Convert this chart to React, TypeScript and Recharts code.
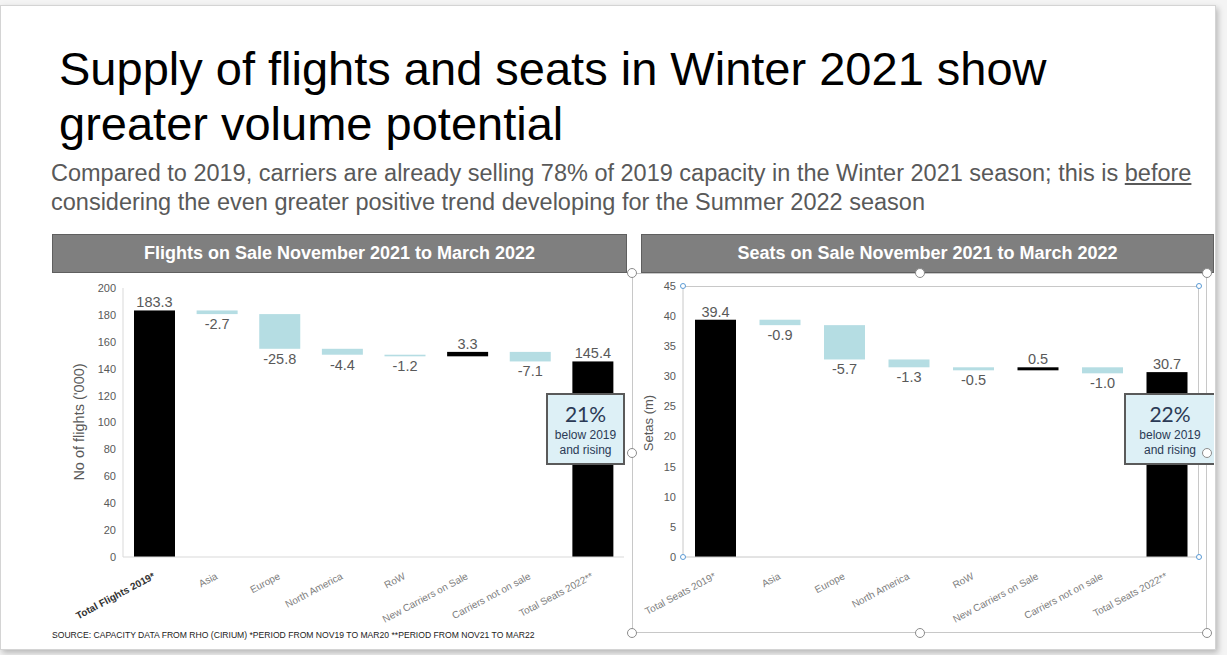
import React from 'react'
import { BarChart, Bar, XAxis, YAxis } from 'recharts'

// flights on sale ('000)
const flightCategories = [
  'Total Flights 2019*',
  'Asia',
  'Europe',
  'North America',
  'RoW',
  'New Carriers on Sale',
  'Carriers not on sale',
  'Total Seats 2022**',
]
const flightValues = [183.3, -2.7, -25.8, -4.4, -1.2, 3.3, -7.1, 145.4]
const flightTicks = [0, 20, 40, 60, 80, 100, 120, 140, 160, 180, 200]

// seats on sale (m)
const seatCategories = [
  'Total Seats 2019*',
  'Asia',
  'Europe',
  'North America',
  'RoW',
  'New Carriers on Sale',
  'Carriers not on sale',
  'Total Seats 2022**',
]
const seatValues = [39.4, -0.9, -5.7, -1.3, -0.5, 0.5, -1.0, 30.7]
const seatTicks = [0, 5, 10, 15, 20, 25, 30, 35, 40, 45]

// first and last columns are totals, the rest are steps
const isTotal = [true, false, false, false, false, false, false, true]

const FONT = '"Liberation Sans", Arial, sans-serif'
const DROP = '#b5dde3'

function buildWaterfall(categories: string[], values: number[]) {
  let running = 0
  return categories.map((name, i) => {
    const v = values[i]
    let base = 0
    if (isTotal[i]) {
      running = v
      return { name, value: v, total: true, base: 0, size: v }
    }
    if (v < 0) {
      base = running + v
    } else {
      base = running
    }
    running += v
    return { name, value: v, total: false, base, size: Math.abs(v) }
  })
}

const flightData = buildWaterfall(flightCategories, flightValues)
const seatData = buildWaterfall(seatCategories, seatValues)

function WaterfallBar(props: any) {
  const { x, y, width, height, payload } = props
  const top = Math.min(y, y + height)
  const h = Math.max(Math.abs(height), 1.5)
  const down = !payload.total && payload.value < 0
  const fill = down ? DROP : '#000000'
  const labelY = down ? top + h + 15 : top - 3
  return (
    <g>
      <rect x={x} y={top} width={width} height={h} fill={fill} />
      <text
        x={x + width / 2}
        y={labelY}
        textAnchor="middle"
        fontSize={14.5}
        fontFamily={FONT}
        fill="#595959"
      >
        {payload.value.toFixed(1)}
      </text>
    </g>
  )
}

function AngledTick(props: any) {
  const { x, y, payload, index, boldFirst } = props
  const bold = boldFirst && index === 0
  return (
    <g transform={`translate(${x - 2},${y + 13}) rotate(-28)`}>
      <text
        textAnchor="end"
        dy="0.71em"
        fontSize={10}
        fontFamily={FONT}
        fontWeight={bold ? 700 : 400}
        fill={bold ? '#333333' : '#808080'}
      >
        {payload.value}
      </text>
    </g>
  )
}

function Waterfall({ data, ticks, max, yWidth, right, top, axisColor, boldFirst }: any) {
  return (
    <BarChart
      width={yWidth + 501 + right + (yWidth === 50 ? 15 : 0)}
      height={357}
      data={data}
      barSize={41}
      margin={{ top, right, left: 0, bottom: 0 }}
    >
      <XAxis
        dataKey="name"
        interval={0}
        height={75}
        tickLine={false}
        tickSize={0}
        axisLine={{ stroke: axisColor }}
        tick={<AngledTick boldFirst={boldFirst} />}
      />
      <YAxis
        width={yWidth}
        domain={[0, max]}
        ticks={ticks}
        interval={0}
        tickLine={false}
        tickSize={0}
        tickMargin={7}
        axisLine={{ stroke: axisColor }}
        tick={{ fontSize: 11, fill: '#595959', fontFamily: FONT }}
      />
      <Bar dataKey="base" stackId="w" fill="transparent" isAnimationActive={false} />
      <Bar
        dataKey="size"
        stackId="w"
        isAnimationActive={false}
        shape={(p: any) => <WaterfallBar {...p} />}
      />
    </BarChart>
  )
}

function Header({ left, width, text }: any) {
  return (
    <div
      style={{
        position: 'absolute',
        left,
        top: 234,
        width,
        height: 39,
        boxSizing: 'border-box',
        background: '#7f7f7f',
        border: '1px solid #5f5f5f',
        color: '#ffffff',
        fontFamily: FONT,
        fontWeight: 700,
        fontSize: 18,
        lineHeight: '37px',
        textAlign: 'center',
      }}
    >
      {text}
    </div>
  )
}

function Callout({ left, width, pct, noRight }: any) {
  return (
    <div
      style={{
        position: 'absolute',
        left,
        top: 393,
        width,
        height: 72,
        boxSizing: 'border-box',
        background: '#ddf0f6',
        border: '2px solid #5a5a5a',
        borderRight: noRight ? 'none' : '2px solid #5a5a5a',
        textAlign: 'center',
        color: '#2b3a55',
      }}
    >
      <div style={{ fontFamily: 'Lato, "Open Sans", sans-serif', fontSize: 21, lineHeight: '24px', marginTop: 7 }}>
        {pct}
      </div>
      <div style={{ fontFamily: FONT, fontSize: 12, lineHeight: '15px', marginTop: 2 }}>below 2019</div>
      <div style={{ fontFamily: FONT, fontSize: 12, lineHeight: '15px' }}>and rising</div>
    </div>
  )
}

function YLabel({ cx, cy, text, size }: any) {
  return (
    <div
      style={{
        position: 'absolute',
        left: cx,
        top: cy,
        transform: 'translate(-50%, -50%) rotate(-90deg)',
        whiteSpace: 'nowrap',
        fontFamily: FONT,
        fontSize: size,
        color: '#595959',
      }}
    >
      {text}
    </div>
  )
}

const handle = (x: number, y: number, key: string, blue?: boolean) => (
  <div
    key={key}
    style={{
      position: 'absolute',
      left: x - (blue ? 3 : 5),
      top: y - (blue ? 3 : 5),
      width: blue ? 6 : 10,
      height: blue ? 6 : 10,
      borderRadius: '50%',
      boxSizing: 'border-box',
      background: '#ffffff',
      border: blue ? '1.5px solid #5b9bd5' : '1.5px solid #8c8c8c',
    }}
  />
)

export default function App() {
  return (
    <div
      style={{
        position: 'absolute',
        left: 0,
        top: 0,
        width: 1227,
        height: 655,
        overflow: 'hidden',
        background: '#f4f4f4',
        fontFamily: FONT,
      }}
    >
      {/* slide */}
      <div
        style={{
          position: 'absolute',
          left: 0,
          top: 5,
          width: 1214,
          height: 643,
          background: '#ffffff',
          border: '1px solid #d4d4d4',
          boxShadow: '2px 3px 6px rgba(0,0,0,0.25)',
        }}
      />

      <div
        style={{
          position: 'absolute',
          left: 59,
          top: 41,
          fontSize: 47,
          lineHeight: '55px',
          color: '#000000',
        }}
      >
        Supply of flights and seats in Winter 2021 show
        <br />
        greater volume potential
      </div>

      <div
        style={{
          position: 'absolute',
          left: 51,
          top: 159,
          width: 1175,
          whiteSpace: 'nowrap',
          fontSize: 23.5,
          lineHeight: '29px',
          color: '#595959',
        }}
      >
        Compared to 2019, carriers are already selling 78% of 2019 capacity in the Winter 2021 season; this is{' '}
        <span style={{ textDecoration: 'underline' }}>before</span>
        <br />
        considering the even greater positive trend developing for the Summer 2022 season
      </div>

      <Header left={52} width={575} text="Flights on Sale November 2021 to March 2022" />
      <Header left={641} width={573} text="Seats on Sale November 2021 to March 2022" />

      {/* selection frame of the seats chart */}
      <div
        style={{
          position: 'absolute',
          left: 632,
          top: 273,
          width: 575,
          height: 360,
          boxSizing: 'border-box',
          border: '1px solid #c8c8c8',
        }}
      />
      <div
        style={{
          position: 'absolute',
          left: 683,
          top: 286,
          width: 516,
          height: 271,
          boxSizing: 'border-box',
          borderTop: '1px solid #c8c8c8',
          borderRight: '1px solid #c8c8c8',
        }}
      />

      <div style={{ position: 'absolute', left: 52, top: 275 }}>
        <Waterfall
          data={flightData}
          ticks={flightTicks}
          max={200}
          yWidth={71}
          right={8}
          top={13}
          axisColor="#d9d9d9"
          boldFirst
        />
      </div>
      <div style={{ position: 'absolute', left: 633, top: 275 }}>
        <Waterfall
          data={seatData}
          ticks={seatTicks}
          max={45}
          yWidth={50}
          right={9}
          top={11}
          axisColor="#c8c8c8"
        />
      </div>

      <YLabel cx={79} cy={422} text="No of flights ('000)" size={14.5} />
      <YLabel cx={648} cy={423} text="Setas (m)" size={13} />

      {handle(683, 286, 'b1', true)}
      {handle(1199, 286, 'b2', true)}
      {handle(683, 557, 'b3', true)}
      {handle(1199, 557, 'b4', true)}

      <Callout left={546} width={79} pct="21%" />
      <Callout left={1124} width={90} pct="22%" noRight />

      {handle(632, 273, 'h1')}
      {handle(920, 273, 'h2')}
      {handle(1207, 273, 'h3')}
      {handle(632, 453, 'h4')}
      {handle(1207, 453, 'h5')}
      {handle(632, 633, 'h6')}
      {handle(920, 633, 'h7')}
      {handle(1207, 633, 'h8')}

      <div
        style={{
          position: 'absolute',
          left: 52,
          top: 630,
          whiteSpace: 'nowrap',
          fontSize: 8.6,
          lineHeight: '10px',
          color: '#222222',
        }}
      >
        SOURCE: CAPACITY DATA FROM RHO (CIRIUM) *PERIOD FROM NOV19 TO MAR20 **PERIOD FROM NOV21 TO MAR22
      </div>
    </div>
  )
}
